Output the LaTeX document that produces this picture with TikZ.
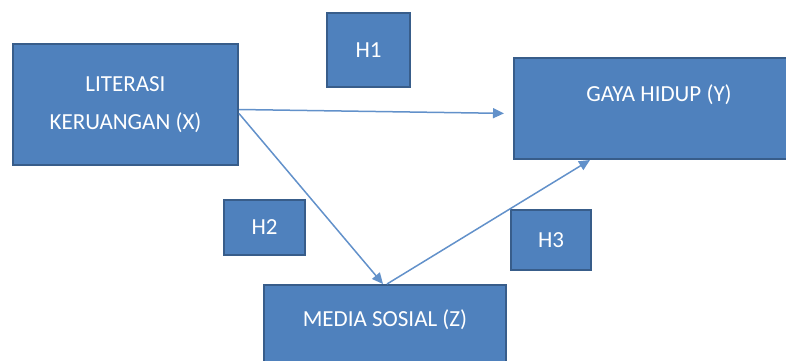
\documentclass[tikz,border=0pt]{standalone}
\usepackage{fontspec}
\setmainfont{Carlito}
\usetikzlibrary{arrows.meta}
\usepackage{xcolor}
\definecolor{boxblue} {RGB} {79,129,189}
\definecolor{boxedge} {RGB} {56,93,138}
\definecolor{lineblue} {RGB} {98,145,202}
\tikzstyle{V} = [rectangle,fill=boxblue,draw=boxedge,line width=2pt,text=white,font=\fontsize{23}{38}\selectfont,align=center,inner sep=0pt]
\tikzstyle{E} = [->,color=lineblue,line width=1.5pt]
\tikzset{>={Triangle[length=11pt,width=10pt]}}

\begin{document}
\begin{tikzpicture}[x=1pt,y=-1pt]
  \clip (0,0) rectangle (786,360);

  \node [V,minimum width=225pt,minimum height=121pt] (x) at (125.5,104.5) {LITERASI\\KERUANGAN (X)};
  \node [V,anchor=north west,minimum width=290pt,text height=43pt,text depth=58pt] (y) at (513,57) {GAYA HIDUP (Y)};
  \node [V,anchor=north west,minimum width=242pt,text height=41pt,text depth=60pt] (z) at (263,284) {MEDIA SOSIAL (Z)};

  \node [V,minimum width=83pt,minimum height=74pt] (h1) at (368.5,50) {H1};
  \node [V,minimum width=81pt,minimum height=55pt] (h2) at (264.5,227.5) {H2};
  \node [V,minimum width=80pt,minimum height=60pt] (h3) at (551,240) {H3};

  \draw [E,shorten >=9pt] ([yshift=-5pt]x.east) -- ([yshift=-5pt]y.west);
  \draw [E] ([yshift=-9pt]x.east) -- ([xshift=-2pt]z.north);
  \draw [E] ([xshift=2pt]z.north) -- ([xshift=77pt]y.south west);

\end{tikzpicture}
\end{document}
